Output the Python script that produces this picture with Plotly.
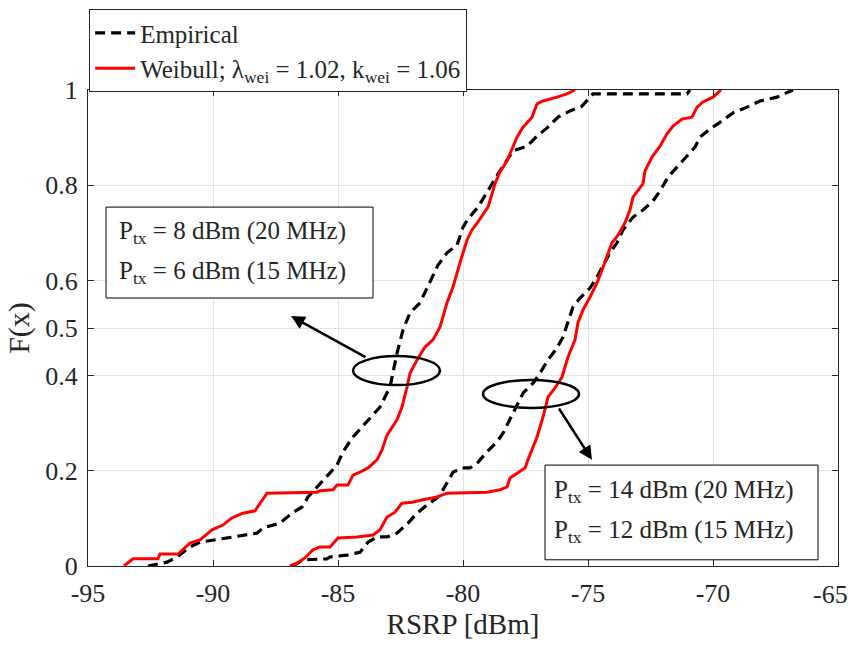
import plotly.graph_objects as go

# Empirical CDF, low power group (8 dBm / 6 dBm)
emp1_x = [-92.60, -91.84, -91.44, -90.92, -90.52, -88.24, -88.00, -87.32, -86.84, -86.44,
          -86.20, -85.72, -85.40, -85.04, -84.80, -84.40, -83.80, -83.32, -82.92, -82.64,
          -82.40, -82.12, -81.72, -81.32, -81.00, -80.64, -80.24, -80.00, -79.80, -79.40,
          -78.92, -78.52, -78.00, -77.44, -77.04, -76.60, -76.20, -75.72, -75.24, -74.92,
          -74.80, -71.04, -70.92]
emp1_y = [0.000, 0.008, 0.019, 0.040, 0.050, 0.069, 0.080, 0.090, 0.111, 0.124,
          0.145, 0.174, 0.191, 0.212, 0.240, 0.271, 0.307, 0.334, 0.376, 0.447,
          0.496, 0.532, 0.553, 0.595, 0.632, 0.658, 0.674, 0.712, 0.729, 0.754,
          0.796, 0.830, 0.872, 0.882, 0.903, 0.922, 0.943, 0.956, 0.966, 0.985,
          0.992, 0.992, 1.000]

# Weibull fit, low power group
wei1_x = [-93.56, -93.20, -92.20, -92.12, -91.40, -90.92, -90.52, -90.04, -89.60, -89.24,
          -88.80, -88.32, -87.84, -85.84, -85.72, -85.20, -85.04, -84.60, -84.40, -84.12,
          -83.80, -83.44, -83.24, -83.04, -82.64, -82.44, -82.24, -82.12, -81.84, -81.52,
          -81.20, -80.92, -80.64, -80.40, -80.12, -79.84, -79.64, -79.40, -79.00, -78.72,
          -78.52, -78.24, -78.04, -77.84, -77.60, -77.24, -77.04, -76.80, -76.24, -75.84,
          -75.52]
wei1_y = [0.000, 0.015, 0.015, 0.025, 0.025, 0.048, 0.055, 0.076, 0.086, 0.101,
          0.111, 0.116, 0.153, 0.155, 0.158, 0.160, 0.170, 0.170, 0.191, 0.197,
          0.206, 0.223, 0.244, 0.275, 0.307, 0.334, 0.376, 0.405, 0.433, 0.460,
          0.475, 0.502, 0.553, 0.586, 0.637, 0.685, 0.706, 0.723, 0.754, 0.803,
          0.828, 0.851, 0.876, 0.901, 0.922, 0.943, 0.971, 0.977, 0.985, 0.992,
          1.000]

# Empirical CDF, high power group (14 dBm / 12 dBm)
emp2_x = [-86.80, -86.64, -86.40, -85.44, -85.32, -84.64, -84.12, -83.80, -83.44, -83.04,
          -82.64, -82.20, -81.84, -81.44, -81.04, -80.80, -80.52, -80.40, -80.04, -79.72,
          -79.40, -79.04, -78.64, -78.40, -78.00, -77.60, -77.20, -76.92, -76.60, -76.24,
          -76.00, -75.80, -75.60, -75.32, -74.92, -74.64, -74.40, -74.12, -73.84, -73.60,
          -73.20, -72.80, -72.40, -72.12, -71.80, -71.44, -71.12, -70.72, -70.52, -70.12,
          -69.64, -69.20, -68.64, -68.12, -67.44, -66.92, -66.80]
emp2_y = [0.000, 0.006, 0.013, 0.015, 0.019, 0.023, 0.029, 0.050, 0.061, 0.061,
          0.069, 0.090, 0.111, 0.128, 0.143, 0.160, 0.187, 0.197, 0.206, 0.206,
          0.218, 0.240, 0.261, 0.279, 0.321, 0.363, 0.384, 0.405, 0.433, 0.458,
          0.481, 0.511, 0.544, 0.563, 0.584, 0.607, 0.632, 0.658, 0.679, 0.706,
          0.733, 0.748, 0.767, 0.788, 0.817, 0.838, 0.859, 0.880, 0.901, 0.918,
          0.935, 0.952, 0.964, 0.977, 0.985, 0.998, 1.000]

# Weibull fit, high power group
wei2_x = [-86.92, -86.64, -86.32, -86.00, -85.72, -85.32, -85.00, -84.24, -83.60, -83.32,
          -83.04, -82.72, -82.44, -82.04, -81.60, -81.04, -80.64, -79.04, -78.52, -78.24,
          -78.12, -77.84, -77.52, -77.40, -77.24, -77.04, -76.80, -76.60, -76.32, -76.04,
          -75.80, -75.52, -75.40, -75.20, -74.92, -74.64, -74.44, -74.24, -74.04, -73.80,
          -73.52, -73.32, -73.20, -72.80, -72.72, -72.44, -72.12, -71.84, -71.60, -71.24,
          -70.84, -70.64, -70.40, -70.00, -69.72, -69.68]
wei2_y = [0.000, 0.006, 0.017, 0.034, 0.040, 0.040, 0.059, 0.061, 0.065, 0.076,
          0.103, 0.113, 0.132, 0.134, 0.139, 0.145, 0.153, 0.155, 0.160, 0.166,
          0.185, 0.195, 0.206, 0.223, 0.244, 0.271, 0.313, 0.355, 0.374, 0.397,
          0.439, 0.475, 0.511, 0.538, 0.565, 0.595, 0.622, 0.649, 0.679, 0.695,
          0.721, 0.748, 0.775, 0.803, 0.830, 0.859, 0.882, 0.908, 0.924, 0.939,
          0.943, 0.964, 0.975, 0.985, 0.998, 1.000]

x_ticks = [-95, -90, -85, -80, -75, -70, -65]
x_tick_labels = ["-95", "-90", "-85", "-80", "-75", "-70", "-65"]
y_ticks = [0, 0.2, 0.4, 0.5, 0.6, 0.8, 1]
y_tick_labels = ["0", "0.2", "0.4", "0.5", "0.6", "0.8", "1"]

box1_lines = ["P<sub>tx</sub> = 8 dBm (20 MHz)", "P<sub>tx</sub> = 6 dBm (15 MHz)"]
box2_lines = ["P<sub>tx</sub> = 14 dBm (20 MHz)", "P<sub>tx</sub> = 12 dBm (15 MHz)"]

FONT = "Liberation Serif"
BLACK_DASH = dict(color="black", width=3.2, dash="10px,6px")
RED = dict(color="#ff0000", width=3)
TXT = "#262626"
TICK_SIZE = 26

fig = go.Figure()
fig.add_trace(go.Scatter(x=emp1_x, y=emp1_y, mode="lines", line=BLACK_DASH, name="Empirical"))
fig.add_trace(go.Scatter(x=wei1_x, y=wei1_y, mode="lines", line=RED,
                         name="Weibull; λ<sub>wei</sub> = 1.02, k<sub>wei</sub> = 1.06"))
fig.add_trace(go.Scatter(x=emp2_x, y=emp2_y, mode="lines", line=BLACK_DASH, showlegend=False))
fig.add_trace(go.Scatter(x=wei2_x, y=wei2_y, mode="lines", line=RED, showlegend=False))

shapes = [
    dict(type="circle", xref="x", yref="y", x0=-84.40, x1=-80.92, y0=0.380, y1=0.441,
         line=dict(color="black", width=2.5)),
    dict(type="circle", xref="x", yref="y", x0=-79.20, x1=-75.36, y0=0.332, y1=0.391,
         line=dict(color="black", width=2.5)),
    dict(type="rect", xref="x", yref="y", x0=-94.28, x1=-83.60, y0=0.563, y1=0.754,
         line=dict(color="black", width=1), fillcolor="white"),
    dict(type="rect", xref="x", yref="y", x0=-76.72, x1=-65.80, y0=0.013, y1=0.212,
         line=dict(color="black", width=1), fillcolor="white"),
]

annotations = [
    dict(x=-86.88, y=0.525, ax=-83.84, ay=0.437, xref="x", yref="y", axref="x", ayref="y",
         showarrow=True, arrowhead=2, arrowsize=1.1, arrowwidth=2.5, arrowcolor="black", text=""),
    dict(x=-74.84, y=0.223, ax=-76.20, ay=0.334, xref="x", yref="y", axref="x", ayref="y",
         showarrow=True, arrowhead=2, arrowsize=1.1, arrowwidth=2.5, arrowcolor="black", text=""),
    # last x tick label kept inside the page edge
    dict(x=1, y=0, xref="paper", yref="paper", xanchor="right", yanchor="middle",
         xshift=12, yshift=-28, showarrow=False, text=x_tick_labels[-1],
         font=dict(family=FONT, size=TICK_SIZE, color=TXT)),
]
for txt, yv in zip(box1_lines, [0.700, 0.616]):
    annotations.append(dict(x=-93.84, y=yv, xref="x", yref="y", xanchor="left", yanchor="middle",
                            showarrow=False, text=txt,
                            font=dict(family=FONT, size=25, color=TXT)))
for txt, yv in zip(box2_lines, [0.156, 0.072]):
    annotations.append(dict(x=-76.44, y=yv, xref="x", yref="y", xanchor="left", yanchor="middle",
                            showarrow=False, text=txt,
                            font=dict(family=FONT, size=25, color=TXT)))

fig.update_layout(
    width=851, height=645,
    margin=dict(l=88, r=13, t=90, b=79, autoexpand=False),
    paper_bgcolor="white", plot_bgcolor="white",
    font=dict(family=FONT, size=26, color=TXT),
    shapes=shapes, annotations=annotations,
    legend=dict(x=0.0015, y=1.170, xanchor="left", yanchor="top",
                bgcolor="white", bordercolor="#262626", borderwidth=1,
                font=dict(family=FONT, size=25, color=TXT),
                tracegroupgap=0, itemwidth=40),
    xaxis=dict(range=[-95, -65], tickvals=x_ticks,
               ticktext=x_tick_labels[:-1] + [""],
               showgrid=True, gridcolor="#e3e3e3", gridwidth=1,
               showline=True, linecolor="#262626", linewidth=1, mirror="ticks",
               ticks="inside", ticklen=6, tickcolor="#262626", zeroline=False,
               ticklabelstandoff=4,
               title=dict(text="RSRP [dBm]", font=dict(size=29), standoff=6),
               tickfont=dict(size=TICK_SIZE)),
    yaxis=dict(range=[0, 1], tickvals=y_ticks, ticktext=y_tick_labels,
               showgrid=True, gridcolor="#e3e3e3", gridwidth=1,
               showline=True, linecolor="#262626", linewidth=1, mirror="ticks",
               ticks="inside", ticklen=6, tickcolor="#262626", zeroline=False,
               ticklabelstandoff=4, ticklabeloverflow="allow",
               title=dict(text="F(x)", font=dict(size=30), standoff=6),
               tickfont=dict(size=TICK_SIZE)),
)

fig.write_html("out.html")
